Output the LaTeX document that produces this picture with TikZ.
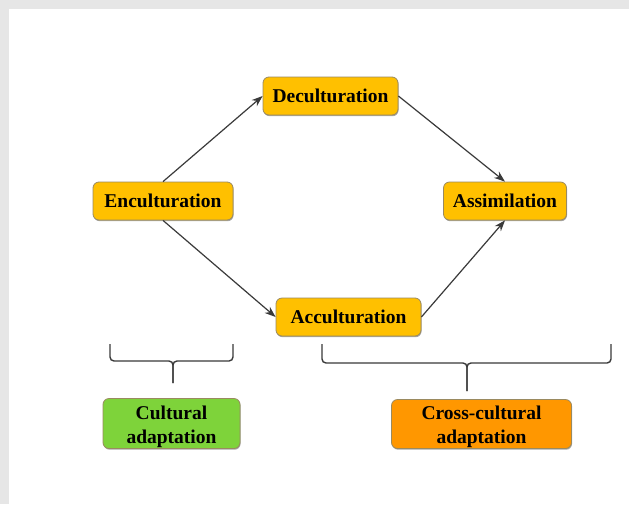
\documentclass[tikz,border=0pt]{standalone}
\usepackage{fontspec}
\setmainfont{Liberation Serif}
\usetikzlibrary{arrows.meta,shadows}
\definecolor{bggray}{HTML}{E6E6E6}
\definecolor{gold}{HTML}{FFC000}
\definecolor{leaf}{HTML}{7ED33A}
\definecolor{tang}{HTML}{FF9700}
\definecolor{edgegray}{HTML}{9A8A60}
\definecolor{arrowgray}{HTML}{3A3A3A}
\newcommand{\twolines}[2]{\raisebox{-3pt}[\height][\depth]{\begin{tabular}{@{}c@{}}#1\\#2\end{tabular}}}
\tikzset{
  box/.style={draw=edgegray, line width=0.8pt, rounded corners=6pt, inner sep=0pt,
    font=\fontsize{19.5}{24}\selectfont\bfseries, align=center,
    drop shadow={shadow xshift=0.6pt, shadow yshift=-1.2pt, opacity=0.35, fill=black}},
  goldbox/.style={box, fill=gold},
  greenbox/.style={box, fill=leaf},
  orangebox/.style={box, fill=tang},
  conn/.style={draw=arrowgray, line width=1.2pt, -{Stealth[length=11pt,width=8pt]}},
  brace/.style={draw=arrowgray, line width=1.4pt, rounded corners=4pt}
}
\begin{document}
\begin{tikzpicture}[x=1pt,y=-1pt]
\useasboundingbox (0,0) rectangle (629,504);
\fill[bggray] (0,0) rectangle (629,504);
\fill[white] (9,9) rectangle (629,504);

\node[goldbox, minimum width=135pt, minimum height=38pt] (decu) at (330.5,96) {Deculturation};
\node[goldbox, minimum width=140pt, minimum height=38pt] (encu) at (163,201) {Enculturation};
\node[goldbox, minimum width=123pt, minimum height=38pt] (assim) at (505,201) {Assimilation};
\node[goldbox, minimum width=145pt, minimum height=38pt] (accu) at (348.5,317) {Acculturation};
\node[greenbox, minimum width=137pt, minimum height=50pt] (cult) at (171.5,423.5) {\twolines{Cultural}{adaptation}};
\node[orangebox, minimum width=180pt, minimum height=49pt] (cross) at (481.5,424) {\twolines{Cross-cultural}{adaptation}};

\draw[conn] (encu.north) -- (decu.west);
\draw[conn] (decu.east) -- (assim.north);
\draw[conn] (encu.south) -- (accu.west);
\draw[conn] (accu.east) -- (assim.south);

% left brace
\coordinate (lbl) at (110,344);
\coordinate (lbr) at (233,344);
\coordinate (lbt) at (173,383);
\draw[brace] (lbl) -- (110,361) -- (173,361) -- (lbt);
\draw[brace] (lbr) -- (233,361) -- (173,361) -- (lbt);

% right brace
\coordinate (rbl) at (322,344);
\coordinate (rbr) at (611,344);
\coordinate (rbt) at (467,391);
\draw[brace] (rbl) -- (322,363) -- (467,363) -- (rbt);
\draw[brace] (rbr) -- (611,363) -- (467,363) -- (rbt);
\end{tikzpicture}
\end{document}
